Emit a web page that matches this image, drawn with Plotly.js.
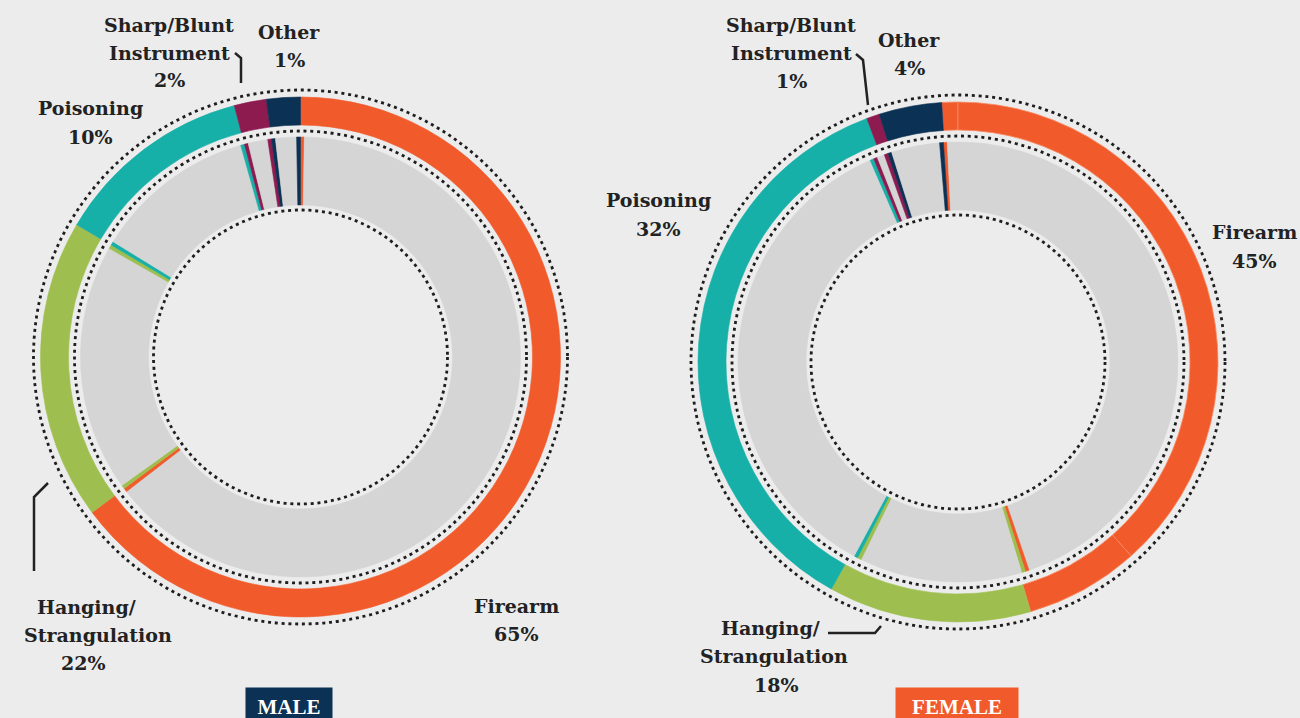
<!DOCTYPE html>
<html>
<head>
<meta charset="utf-8">
<script src="https://cdn.plot.ly/plotly-3.0.1.min.js"></script>
<style>
  html, body { margin: 0; padding: 0; background: #ececec; }
  #chart { width: 1300px; height: 718px; }
</style>
</head>
<body>
<div id="chart"></div>
<script>
// categories, in clockwise order from 12 o'clock
const categories = ['Firearm', 'Hanging/Strangulation', 'Poisoning', 'Sharp/Blunt Instrument', 'Other'];
const catColors = ['#f15a2b', '#9ebf4f', '#17b0a8', '#8d1b50', '#0b3154'];

// printed labels
const malePct = [65, 22, 10, 2, 1];
const femalePct = [45, 18, 32, 1, 4];

// slice sizes as drawn in the picture (%)
const maleOuter = [64.8, 18.7, 12.4, 2.0, 2.1];
const maleInner = [64.8, 18.7, 12.4, 2.0, 2.1];
// female outer ring: firearm is drawn as three pieces
const femaleFirearmParts = [1.0, 38.4, 7.1];
const femaleOuter = [46.5, 12.6, 36.2, 0.8, 3.9];
const femaleInner = [46.1, 12.5, 36.2, 1.1, 4.1];

const W = 1300, H = 718;
const GREY = '#d5d5d5';
const SLIVER = 0.28;

function domainFor(cx, cy, r) {
    return {
        x: [(cx - r) / W, (cx + r) / W],
        y: [(H - cy - r) / H, (H - cy + r) / H]
    };
}

function ring(values, colors, cx, cy, rOut, rIn, rotation, lineColors, lineWidths) {
    return {
        type: 'pie',
        values: values,
        sort: false,
        direction: 'clockwise',
        rotation: rotation,
        hole: rIn / rOut,
        domain: domainFor(cx, cy, rOut),
        marker: {
            colors: colors,
            line: { color: lineColors || colors, width: lineWidths || 0.6 }
        },
        textinfo: 'none',
        hoverinfo: 'skip',
        showlegend: false
    };
}

// inner ring: grey with a thin coloured edge at both ends of each category
function innerRing(values, cx, cy, rotation) {
    const vals = [], cols = [];
    values.forEach((v, i) => {
        vals.push(SLIVER, v - 2 * SLIVER, SLIVER);
        cols.push(catColors[i], GREY, catColors[i]);
    });
    return ring(vals, cols, cx, cy, 220, 152, rotation);
}

const male = { cx: 300.5, cy: 357 };
const female = { cx: 958, cy: 362 };

// female outer ring with the firearm pieces first
const fVals = femaleFirearmParts.concat(femaleOuter.slice(1));
const fCols = femaleFirearmParts.map(() => catColors[0]).concat(catColors.slice(1));
const fLineCols = femaleFirearmParts.map(() => '#f78a62').concat(catColors.slice(1));
const fLineW = femaleFirearmParts.map(() => 0.8).concat(catColors.slice(1).map(() => 0.6));

const data = [
    ring(maleOuter, catColors, male.cx, male.cy, 260, 232, 0),
    innerRing(maleInner, male.cx, male.cy, 0),
    ring(fVals, fCols, female.cx, female.cy, 260, 232, -3.6, fLineCols, fLineW),
    innerRing(femaleInner, female.cx, female.cy, -3.8)
];

// dotted guide circles
const dotRadii = [267, 226, 147];
const shapes = [];
[male, female].forEach(c => {
    dotRadii.forEach(r => {
        shapes.push({
            type: 'circle', xref: 'paper', yref: 'paper',
            xsizemode: 'pixel', ysizemode: 'pixel',
            xanchor: c.cx / W, yanchor: 1 - c.cy / H,
            x0: -r, x1: r, y0: -r, y1: r,
            line: { color: '#1e1e1e', width: 2.8, dash: '3px,3.8px' }
        });
    });
});

// leader lines (pixel points)
const leaders = [
    [[235, 53], [241, 58], [241, 83]],
    [[48, 483], [34, 497], [34, 571]],
    [[856, 54], [863, 60], [868, 105]],
    [[828, 633], [875, 633], [881, 626]]
];
leaders.forEach(pts => {
    const path = pts.map((p, i) => (i ? 'L' : 'M') + (p[0] / W) + ',' + (1 - p[1] / H)).join(' ');
    shapes.push({ type: 'path', xref: 'paper', yref: 'paper', path: path,
        line: { color: '#222', width: 2.5 } });
});

// label text lines: [text, x, y] in pixels
const labelFont = { family: 'DejaVu Serif', size: 19, color: '#222', weight: 700 };
const textLines = [
    ['Sharp/Blunt', 169, 25], ['Instrument', 169, 53], [malePct[3] + '%', 169, 80],
    ['Other', 289, 32], [malePct[4] + '%', 289, 60],
    ['Poisoning', 90, 108], [malePct[2] + '%', 90, 137],
    ['Hanging/', 86, 607], ['Strangulation', 98, 635], [malePct[1] + '%', 83, 663],
    ['Firearm', 516, 606], [malePct[0] + '%', 516, 634],
    ['Sharp/Blunt', 791, 25], ['Instrument', 791, 53], [femalePct[3] + '%', 791, 81],
    ['Other', 909, 40], [femalePct[4] + '%', 909, 68],
    ['Poisoning', 658, 200], [femalePct[2] + '%', 658, 229],
    ['Firearm', 1254, 232], [femalePct[0] + '%', 1254, 261],
    ['Hanging/', 770, 628], ['Strangulation', 774, 656], [femalePct[1] + '%', 776, 685]
];
const annotations = textLines.map(t => ({
    text: t[0], x: t[1] / W, y: 1 - t[2] / H, xref: 'paper', yref: 'paper',
    xanchor: 'center', yanchor: 'middle', showarrow: false, font: labelFont
}));

// MALE / FEMALE tags
[['MALE', 289, 86, '#0b3154'], ['FEMALE', 957, 122, '#f15a2b']].forEach(t => {
    annotations.push({
        text: t[0], x: t[1] / W, y: 1 - 687 / H, xref: 'paper', yref: 'paper',
        xanchor: 'center', yanchor: 'top', showarrow: false,
        width: t[2], height: 38, bgcolor: t[3], borderpad: 0, valign: 'middle',
        font: { family: 'Liberation Serif', size: 21, color: '#ffffff', weight: 700 }
    });
});

const layout = {
    width: W,
    height: H,
    margin: { l: 0, r: 0, t: 0, b: 0 },
    paper_bgcolor: '#ececec',
    plot_bgcolor: '#ececec',
    showlegend: false,
    shapes: shapes,
    annotations: annotations
};

Plotly.newPlot('chart', data, layout, { displayModeBar: false, staticPlot: true });
</script>
</body>
</html>
